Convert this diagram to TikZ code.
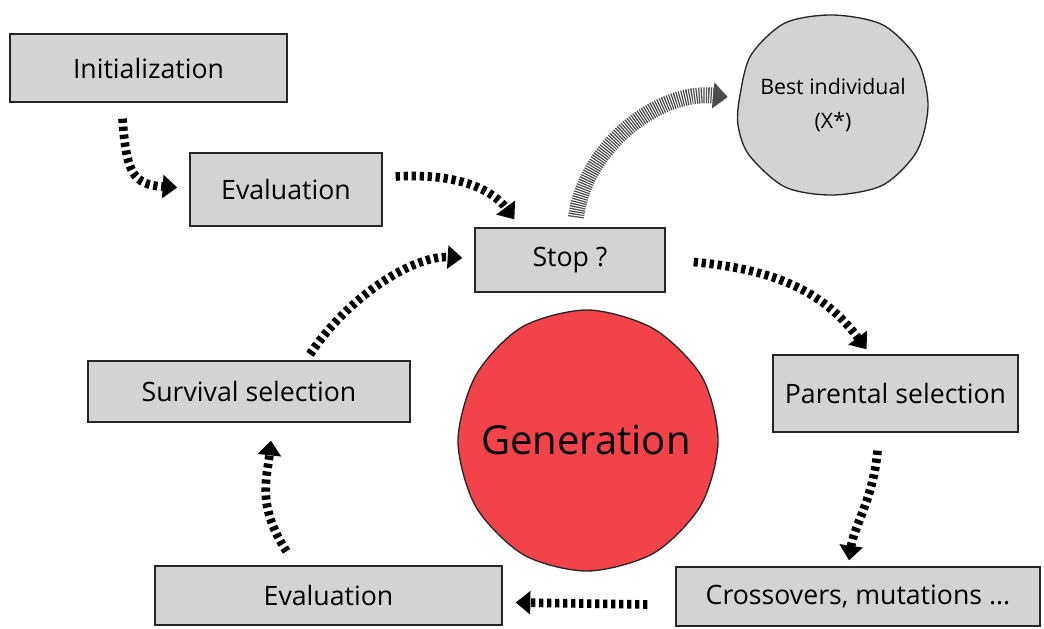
\documentclass[tikz,border=0pt]{standalone}
\usepackage{fontspec}
\setmainfont{Open Sans}
\usetikzlibrary{arrows.meta,calc}
\definecolor{boxgray}{RGB}{211,211,211}
\definecolor{genred}{RGB}{242,66,74}
\tikzset{
  stepbox/.style={draw=black!85, line width=1pt, fill=boxgray, inner sep=0pt, font=\fontsize{20}{24}\selectfont},
  flow/.style={line width=6.5pt, dash pattern=on 3.2pt off 2.8pt, -{Triangle[length=11pt,width=17pt]}},
  fineflow/.style={line width=12pt, black!70, dash pattern=on 0.9pt off 0.9pt, -{Triangle[length=11pt,width=19pt]}},
  blob/.style={draw=black!85, line width=1pt}
}
\begin{document}
\begin{tikzpicture}[x=0.75pt,y=-0.75pt]
\useasboundingbox (0,0) rectangle (1044,628);
% boxes
\node[stepbox, minimum width=277*0.75pt, minimum height=68*0.75pt] (init) at (148.5,68) {Initialization};
\node[stepbox, minimum width=192*0.75pt, minimum height=73*0.75pt] (eval1) at (286,189.5) {Evaluation};
\node[stepbox, minimum width=190*0.75pt, minimum height=64*0.75pt] (stop) at (570,260) {Stop ?};
\node[stepbox, minimum width=245*0.75pt, minimum height=77*0.75pt] (parsel) at (895.5,393.5) {Parental selection};
\node[stepbox, minimum width=364*0.75pt, minimum height=59*0.75pt] (cross) at (858,596.5) {Crossovers, mutations ...};
\node[stepbox, minimum width=347*0.75pt, minimum height=59*0.75pt] (eval2) at (328.5,595.5) {Evaluation};
\node[stepbox, minimum width=322*0.75pt, minimum height=61*0.75pt] (survsel) at (249,391.5) {Survival selection};
% blobs
\draw[blob, fill=boxgray, shift={(833,105)}] plot[smooth cycle] coordinates {
 (95,0) (84,-46) (50,-80) (0,-90) (-48,-82) (-82,-50) (-93,-10) (-95,20) (-84,50) (-48,82) (0,90) (50,80) (84,46)};
\node[circle, minimum size=190*0.75pt, align=center, font=\fontsize{16}{26}\selectfont, inner sep=0pt] (best) at (833,105) {Best individual\\(X*)};
\draw[blob, fill=genred, shift={(588,441)}] plot[smooth cycle] coordinates {
 (130,0) (114,-64) (66,-112) (0,-131) (-66,-114) (-112,-66) (-130,0) (-112,66) (-64,114) (0,130) (66,112) (113,64)};
\node[circle, minimum size=260*0.75pt, font=\fontsize{30}{36}\selectfont, inner sep=0pt] (gen) at (586,440) {Generation};
% connectors
\draw[flow] ($(init.south)+(-26,16)$) .. controls ($(init.south)+(-22,70)$) and ($(init.south)+(-16,82)$) .. ($(eval1.west)+(-12,-2)$);
\draw[flow] ($(eval1.east)+(13,-13)$) .. controls ($(eval1.east)+(80,-17)$) and ($(stop.north west)+(20,-35)$) .. ($(stop.north west)+(40,-8)$);
\draw[fineflow] ($(stop.north)+(6,-10)$) .. controls ($(stop.north)+(15,-80)$) and ($(best.west)+(-80,-15)$) .. ($(best.west)+(-10,-8)$);
\draw[flow] ($(stop.east)+(28,2)$) .. controls ($(stop.east)+(115,10)$) and ($(parsel.north)+(-70,-60)$) .. ($(parsel.north)+(-29,-5)$);
\draw[flow] ($(parsel.south)+(-18,18)$) .. controls ($(parsel.south)+(-22,65)$) and ($(cross.north)+(-4,-40)$) .. ($(cross.north)+(-9,-6)$);
\draw[flow] ($(cross.west)+(-28,8)$) -- ($(eval2.east)+(13,7)$);
\draw[flow] ($(eval2.north)+(-42,-14)$) .. controls ($(eval2.north)+(-72,-60)$) and ($(survsel.south)+(18,55)$) .. ($(survsel.south)+(22,18)$);
\draw[flow] ($(survsel.north)+(61,-6)$) .. controls ($(survsel.north)+(100,-65)$) and ($(stop.west)+(-60,-5)$) .. ($(stop.west)+(-12,-2)$);
\end{tikzpicture}
\end{document}
